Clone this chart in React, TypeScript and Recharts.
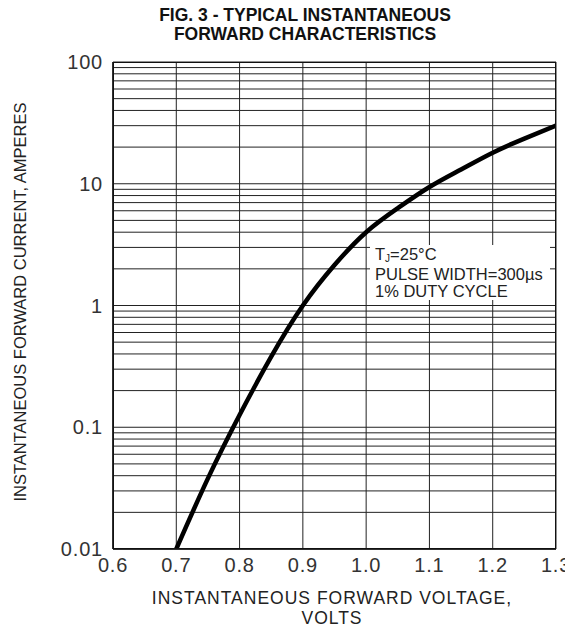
import React from 'react';
import { LineChart, Line, XAxis, YAxis, CartesianGrid } from 'recharts';

// forward voltage (V) vs instantaneous forward current (A)
const voltage = [0.7, 0.75, 0.8, 0.85, 0.9, 0.95, 1.0, 1.05, 1.1, 1.15, 1.2, 1.25, 1.3];
const current = [0.01, 0.038, 0.126, 0.38, 1.0, 2.15, 4.0, 6.3, 9.4, 13.1, 18.0, 23.5, 30];

const xTicks = [0.6, 0.7, 0.8, 0.9, 1.0, 1.1, 1.2, 1.3];
const decades = [0.01, 0.1, 1, 10, 100];
const minorSteps = [1, 2, 3, 4, 5, 6, 7, 8, 9];

// log grid: every 1..9 multiple inside each decade, plus the top line
const yGrid = decades
  .slice(0, -1)
  .flatMap((d) => minorSteps.map((m) => +(d * m).toPrecision(3)))
  .concat([100]);

const data = voltage.map((v, i) => ({ v, i: current[i] }));

const FONT = '"Liberation Sans", Arial, sans-serif';

const fmtY = (val: number) => {
  if (!decades.includes(val)) return '';
  return String(val);
};

export default function App() {
  return (
    <div style={{ position: 'relative', width: 565, height: 619, fontFamily: FONT, color: '#222' }}>
      <div
        style={{
          position: 'absolute',
          left: 97,
          width: 400,
          top: -2,
          textAlign: 'center',
          fontWeight: 'bold',
          fontSize: 17.5,
          lineHeight: '19px',
          color: '#111',
        }}
      >
        FIG. 3 - TYPICAL INSTANTANEOUS
        <br />
        FORWARD CHARACTERISTICS
      </div>

      <LineChart
        width={565}
        height={619}
        data={data}
        margin={{ top: 54, right: 17, bottom: 48, left: 0 }}
      >
        <CartesianGrid stroke="#222" strokeWidth={1} fill="#fff" />
        <XAxis
          dataKey="v"
          type="number"
          domain={[0.6, 1.3]}
          ticks={xTicks}
          interval={0}
          tickFormatter={(t: number) => t.toFixed(1)}
          tickSize={0}
          tickMargin={9}
          height={30}
          axisLine={{ stroke: '#111', strokeWidth: 1.5 }}
          tick={{ fill: '#333', fontSize: 20, fontFamily: FONT, letterSpacing: 0.8 }}
          allowDataOverflow
        />
        <YAxis
          dataKey="i"
          scale="log"
          type="number"
          domain={[0.01, 100]}
          ticks={yGrid}
          interval={0}
          tickFormatter={fmtY}
          tickSize={0}
          tickMargin={10}
          width={105}
          axisLine={{ stroke: '#111', strokeWidth: 1.5 }}
          tick={{ fill: '#333', fontSize: 20, fontFamily: FONT, letterSpacing: 0.8 }}
          allowDataOverflow
        />
        <Line
          dataKey="i"
          type="natural"
          stroke="#000"
          strokeWidth={4.5}
          dot={false}
          isAnimationActive={false}
        />
      </LineChart>

      {/* plot frame */}
      <div
        style={{
          position: 'absolute',
          left: 105,
          top: 54,
          width: 443,
          height: 487,
          border: '1.5px solid #111',
          boxSizing: 'border-box',
          pointerEvents: 'none',
        }}
      />

      <div
        style={{
          position: 'absolute',
          left: 362,
          top: 237,
          width: 180,
          height: 55,
          background: '#fff',
          fontSize: 16.5,
          lineHeight: '17.5px',
          padding: '1px 0 0 5px',
          boxSizing: 'border-box',
          whiteSpace: 'nowrap',
        }}
      >
        <div>
          T<span style={{ fontSize: 10, position: 'relative', top: 2 }}>J</span>=25°C
        </div>
        <div>PULSE WIDTH=300µs</div>
        <div>1% DUTY CYCLE</div>
      </div>

      <div
        style={{
          position: 'absolute',
          left: 74,
          width: 500,
          top: 580,
          textAlign: 'center',
          fontSize: 17.5,
          letterSpacing: 1,
          lineHeight: '20px',
        }}
      >
        INSTANTANEOUS FORWARD VOLTAGE,
        <br />
        VOLTS
      </div>

      <div
        style={{
          position: 'absolute',
          left: 12,
          top: 294,
          width: 0,
          height: 0,
        }}
      >
        <div
          style={{
            position: 'absolute',
            transform: 'translate(-50%, -50%) rotate(-90deg)',
            whiteSpace: 'nowrap',
            fontSize: 16.5,
            left: 0,
            top: 0,
          }}
        >
          INSTANTANEOUS FORWARD CURRENT, AMPERES
        </div>
      </div>
    </div>
  );
}
